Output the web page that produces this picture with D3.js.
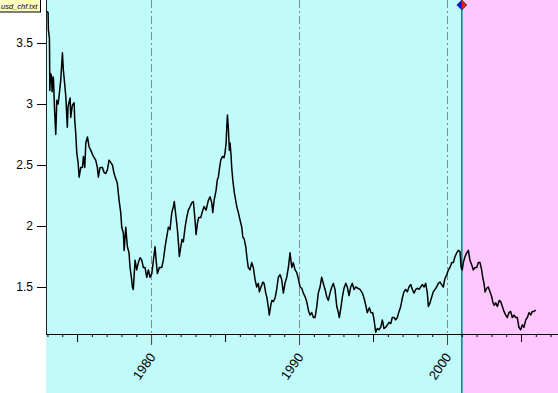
<!DOCTYPE html>
<html><head><meta charset="utf-8">
<script src="https://cdn.jsdelivr.net/npm/d3@7"></script>
<style>body{margin:0;background:#fff}svg{display:block;font-family:"Liberation Sans",Arial,sans-serif}</style>
</head><body>
<svg id="c" width="558" height="393"></svg>
<script>
const years = [1972.97,1973.04,1973.06,1973.13,1973.14,1973.16,1973.21,1973.28,1973.31,1973.40,1973.48,1973.56,1973.63,1973.72,1973.78,1973.90,1974.01,1974.07,1974.12,1974.24,1974.34,1974.39,1974.53,1974.57,1974.68,1974.80,1974.84,1974.91,1974.98,1975.07,1975.14,1975.25,1975.36,1975.43,1975.52,1975.59,1975.70,1975.81,1975.93,1976.10,1976.26,1976.37,1976.44,1976.55,1976.71,1976.82,1976.94,1977.05,1977.16,1977.28,1977.39,1977.50,1977.61,1977.72,1977.84,1977.95,1978.02,1978.13,1978.18,1978.29,1978.40,1978.51,1978.58,1978.67,1978.74,1978.80,1978.92,1979.03,1979.14,1979.26,1979.37,1979.48,1979.59,1979.71,1979.82,1979.93,1980.05,1980.16,1980.27,1980.34,1980.43,1980.56,1980.72,1980.83,1980.95,1981.06,1981.17,1981.28,1981.40,1981.51,1981.57,1981.69,1981.78,1981.87,1981.91,1982.01,1982.09,1982.18,1982.30,1982.41,1982.52,1982.64,1982.75,1982.86,1982.97,1983.04,1983.13,1983.22,1983.36,1983.45,1983.58,1983.72,1983.87,1983.99,1984.10,1984.17,1984.26,1984.39,1984.48,1984.55,1984.61,1984.71,1984.82,1984.93,1985.00,1985.07,1985.11,1985.16,1985.22,1985.29,1985.34,1985.41,1985.45,1985.52,1985.63,1985.72,1985.79,1985.90,1986.01,1986.13,1986.20,1986.30,1986.40,1986.47,1986.57,1986.69,1986.80,1986.91,1987.03,1987.14,1987.25,1987.32,1987.43,1987.55,1987.64,1987.75,1987.82,1987.93,1987.99,1988.09,1988.16,1988.26,1988.38,1988.49,1988.60,1988.72,1988.83,1988.94,1989.05,1989.17,1989.28,1989.39,1989.51,1989.61,1989.73,1989.84,1989.95,1990.07,1990.18,1990.29,1990.41,1990.52,1990.63,1990.74,1990.86,1990.97,1991.08,1991.20,1991.30,1991.42,1991.53,1991.64,1991.76,1991.87,1991.98,1992.09,1992.21,1992.32,1992.43,1992.55,1992.66,1992.72,1992.84,1992.93,1993.04,1993.16,1993.26,1993.38,1993.49,1993.60,1993.72,1993.83,1993.97,1994.12,1994.28,1994.39,1994.53,1994.61,1994.75,1994.86,1994.98,1995.07,1995.18,1995.29,1995.41,1995.52,1995.63,1995.74,1995.86,1995.97,1996.08,1996.20,1996.30,1996.42,1996.53,1996.64,1996.76,1996.87,1996.98,1997.09,1997.21,1997.32,1997.43,1997.55,1997.66,1997.77,1997.89,1997.99,1998.11,1998.22,1998.33,1998.45,1998.56,1998.67,1998.74,1998.85,1998.97,1999.07,1999.19,1999.30,1999.41,1999.53,1999.64,1999.75,1999.86,1999.98,2000.09,2000.20,2000.32,2000.43,2000.54,2000.66,2000.76,2000.88,2000.95,2001.03,2001.10,2001.22,2001.33,2001.44,2001.55,2001.67,2001.78,2001.89,2002.01,2002.11,2002.23,2002.34,2002.41,2002.50,2002.57,2002.68,2002.79,2002.91,2003.02,2003.09,2003.18,2003.29,2003.40,2003.53,2003.63,2003.74,2003.85,2003.97,2004.07,2004.19,2004.30,2004.41,2004.53,2004.64,2004.75,2004.86,2004.98,2005.09,2005.20,2005.32,2005.43,2005.54,2005.66,2005.76,2005.88,2005.99];
const rates = [3.76,3.75,3.61,3.54,3.44,3.11,3.25,3.23,3.10,3.22,2.95,2.75,3.03,3.00,3.06,3.20,3.42,3.28,3.22,3.06,2.81,2.98,3.05,2.89,2.99,3.01,2.87,2.76,2.60,2.52,2.40,2.48,2.48,2.57,2.48,2.68,2.73,2.65,2.62,2.57,2.54,2.48,2.40,2.48,2.48,2.44,2.43,2.46,2.54,2.52,2.50,2.43,2.39,2.35,2.21,2.11,1.99,1.94,1.80,1.99,1.83,1.78,1.66,1.58,1.50,1.48,1.72,1.64,1.70,1.74,1.72,1.66,1.66,1.58,1.64,1.58,1.61,1.72,1.83,1.72,1.61,1.66,1.66,1.72,1.83,1.91,1.99,1.97,2.11,2.16,2.20,2.07,1.97,1.83,1.75,1.83,1.89,1.87,1.99,2.07,2.13,2.16,2.19,2.20,2.05,1.93,2.02,2.07,2.07,2.11,2.16,2.13,2.21,2.24,2.19,2.11,2.21,2.29,2.38,2.40,2.46,2.54,2.57,2.56,2.60,2.68,2.79,2.91,2.81,2.62,2.68,2.57,2.48,2.38,2.27,2.21,2.16,2.11,2.05,1.99,1.91,1.89,1.83,1.75,1.66,1.64,1.70,1.66,1.56,1.50,1.53,1.46,1.50,1.54,1.53,1.45,1.42,1.33,1.27,1.35,1.39,1.38,1.41,1.48,1.58,1.60,1.56,1.45,1.53,1.58,1.66,1.78,1.66,1.70,1.64,1.62,1.57,1.50,1.49,1.45,1.42,1.38,1.31,1.27,1.29,1.25,1.25,1.34,1.45,1.50,1.58,1.53,1.48,1.42,1.39,1.45,1.50,1.53,1.48,1.34,1.29,1.25,1.34,1.42,1.49,1.53,1.50,1.43,1.50,1.53,1.48,1.50,1.49,1.48,1.45,1.41,1.34,1.29,1.33,1.29,1.29,1.23,1.13,1.16,1.15,1.17,1.23,1.16,1.17,1.19,1.21,1.20,1.25,1.25,1.23,1.25,1.30,1.34,1.41,1.46,1.48,1.46,1.50,1.52,1.48,1.45,1.48,1.49,1.48,1.50,1.52,1.50,1.53,1.45,1.34,1.37,1.42,1.46,1.48,1.50,1.53,1.54,1.52,1.50,1.57,1.60,1.64,1.66,1.70,1.70,1.75,1.78,1.80,1.79,1.66,1.64,1.70,1.75,1.78,1.80,1.72,1.68,1.64,1.66,1.66,1.70,1.70,1.64,1.58,1.53,1.46,1.49,1.50,1.46,1.42,1.38,1.35,1.37,1.34,1.39,1.38,1.34,1.30,1.27,1.25,1.29,1.30,1.25,1.27,1.25,1.25,1.17,1.15,1.19,1.17,1.23,1.25,1.29,1.27,1.30,1.30,1.31];
const yTicks = [1.5, 2, 2.5, 3, 3.5];
const minorYears = d3.range(1973, 2008);
const majorYears = [1975, 1985, 1995, 2005];
const labelYears = [1980, 1990, 2000];
const splitYear = 2001.0;
const fileLabel = "usd_chf.txt";

const W = 558, H = 393, left = 46, axisY = 334;
const svg = d3.select("#c");
const x = d3.scaleLinear().domain([1972.9, 2007.5]).range([left, W]);
const y = d3.scaleLinear().domain([1.1148, 3.8525]).range([axisY, 0]);

svg.append("rect").attr("x", left).attr("y", 0).attr("width", x(splitYear) - left).attr("height", H).attr("fill", "#c0fafa");
svg.append("rect").attr("x", x(splitYear)).attr("y", 0).attr("width", W - x(splitYear)).attr("height", H).attr("fill", "#ffc6ff");

svg.append("g").selectAll("line").data(labelYears).join("line")
  .attr("x1", d => Math.round(x(d)) + 0.5).attr("x2", d => Math.round(x(d)) + 0.5)
  .attr("y1", 0).attr("y2", axisY)
  .attr("stroke", "#888").attr("stroke-width", 1).attr("stroke-dasharray", "8,3,2,3");

svg.append("line").attr("x1", x(splitYear)).attr("x2", x(splitYear)).attr("y1", 0).attr("y2", H)
  .attr("stroke", "#008484").attr("stroke-width", 1.5);

svg.append("line").attr("x1", left + 0.5).attr("x2", left + 0.5).attr("y1", 0).attr("y2", axisY)
  .attr("stroke", "#222").attr("stroke-width", 1);

const ya = svg.append("g").attr("transform", `translate(${left},0)`)
  .call(d3.axisLeft(y).tickValues(yTicks).tickSize(9).tickPadding(4).tickFormat(d3.format("")));
ya.select(".domain").remove();
ya.selectAll("text").attr("font-size", 12).attr("fill", "#000").attr("font-family", "Liberation Sans, Arial, sans-serif");
ya.selectAll("line").attr("stroke", "#000");

function xt(vals, size, color) {
  const g = svg.append("g").attr("transform", `translate(0,${axisY})`)
    .call(d3.axisBottom(x).tickValues(vals).tickSize(size).tickFormat(""));
  g.select(".domain").remove();
  g.selectAll("line").attr("stroke", color);
  return g;
}
xt(minorYears, 3, "#000");
xt(majorYears, 8, "#000");
xt(labelYears, 11, "#e00000");
svg.append("line").attr("x1", left).attr("x2", W).attr("y1", axisY + 0.5).attr("y2", axisY + 0.5).attr("stroke", "#000");

svg.append("g").selectAll("text").data(labelYears).join("text")
  .attr("transform", d => `translate(${x(d) + 5},357) rotate(-55)`)
  .attr("text-anchor", "end").attr("font-size", 13).attr("fill", "#000")
  .text(d => d);

svg.append("path").datum(d3.zip(years, rates))
  .attr("fill", "none").attr("stroke", "#000").attr("stroke-width", 1.5).attr("stroke-linejoin", "round")
  .attr("d", d3.line().x(d => x(d[0])).y(d => y(d[1])));

const mx = x(splitYear), my = 5, r = 5;
svg.append("path").attr("d", `M${mx},${my - r}L${mx - r},${my}L${mx},${my + r}Z`).attr("fill", "#0010ff");
svg.append("path").attr("d", `M${mx},${my - r}L${mx + r},${my}L${mx},${my + r}Z`).attr("fill", "#ff1010");
svg.append("path").attr("d", `M${mx},${my - r}L${mx - r},${my}L${mx},${my + r}L${mx + r},${my}Z`).attr("fill", "none").attr("stroke", "#005050").attr("stroke-width", 0.8);

svg.append("rect").attr("x", -1).attr("y", -1).attr("width", 41.5).attr("height", 13).attr("fill", "#ffffc0").attr("stroke", "#000").attr("stroke-width", 1);
svg.append("text").attr("x", 1).attr("y", 9).attr("font-size", 7.5).attr("font-style", "italic").attr("fill", "#000").text(fileLabel);
</script>
</body></html>
